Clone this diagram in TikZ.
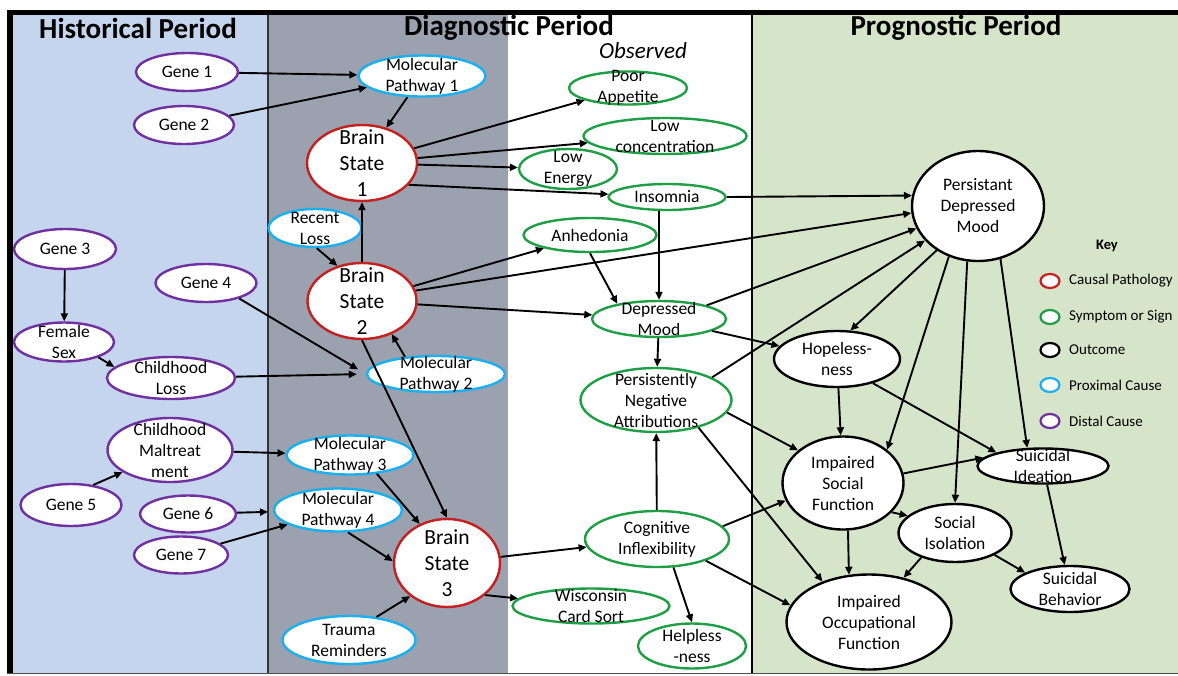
\documentclass[tikz,border=0pt]{standalone}
\usepackage{fontspec}
\setmainfont{Carlito}
\usetikzlibrary{shapes.geometric,arrows.meta}
\definecolor{bluebg}{HTML}{C5D5EE}
\definecolor{graybg}{HTML}{9BA1AF}
\definecolor{greenbg}{HTML}{D6E4CA}
\definecolor{cpurple}{HTML}{7030A0}
\definecolor{cblue}{HTML}{1AAFEF}
\definecolor{cred}{HTML}{C51F1F}
\definecolor{cgreen}{HTML}{1E9E45}
\tikzset{
  base/.style={ellipse, fill=white, line width=2.4pt, inner sep=0pt},
  distal/.style={base, draw=cpurple},
  prox/.style={base, draw=cblue},
  causal/.style={base, draw=cred},
  symp/.style={base, draw=cgreen},
  outc/.style={base, draw=black},
  txt/.style={align=center, inner sep=0pt, font=\fontsize{17.5}{21}\selectfont},
  bigtxt/.style={align=center, inner sep=0pt, font=\fontsize{21.5}{26}\selectfont},
  ptitle/.style={inner sep=0pt, font=\fontsize{29}{33}\selectfont\bfseries},
  arr/.style={-{Triangle[length=8pt,width=7pt]}, line width=1.9pt},
  keyc/.style={ellipse, fill=white, line width=2.2pt, minimum width=19pt, minimum height=14pt, inner sep=0pt},
  keyt/.style={anchor=west, inner sep=0pt, font=\fontsize{15}{17}\selectfont},
}
\begin{document}
\begin{tikzpicture}[x=1pt,y=-1pt]
\useasboundingbox (0,0) rectangle (1178,675);
% panels
\fill[white] (0,0) rectangle (1178,675);
\fill[bluebg] (13,15) rectangle (268,673);
\fill[graybg] (268,15) rectangle (508,673);
\fill[white] (508,15) rectangle (752,673);
\fill[greenbg] (752,15) rectangle (1178,673);
\draw[line width=1.5pt, black!80] (268,15) -- (268,673);
\draw[line width=1.5pt, black] (752,15) -- (752,673);
\draw[line width=5pt] (7,12.5) -- (1178,12.5);
\draw[line width=6pt] (10,10) -- (10,674);
\draw[line width=1.5pt, black!70] (7,673.5) -- (1178,673.5);
% titles
\node[ptitle] (tHist) at (138,28) {Historical Period};
\node[ptitle] (tDiag) at (509,28) {Diagnostic Period};
\node[ptitle] (tProg) at (956,28) {Prognostic Period};
\node[inner sep=0pt, font=\fontsize{23}{26}\selectfont\itshape] (tObs) at (643,51) {Observed};
% historical
\node[distal, minimum width=102pt, minimum height=38pt, label={[txt]center:Gene 1}] (g1) at (187,72) {};
\node[distal, minimum width=100pt, minimum height=38pt, label={[txt]center:Gene 2}] (g2) at (184,125) {};
\node[distal, minimum width=102pt, minimum height=40pt, label={[txt]center:Gene 3}] (g3) at (65,249) {};
\node[distal, minimum width=101pt, minimum height=38pt, label={[txt]center:Gene 4}] (g4) at (206,283) {};
\node[distal, minimum width=100pt, minimum height=39pt, label={[txt]center:Female\\Sex}] (fs) at (64,342) {};
\node[distal, minimum width=128pt, minimum height=42pt, label={[txt]center:Childhood\\Loss}] (cl) at (171,378) {};
\node[distal, minimum width=125pt, minimum height=64pt, label={[txt]center:Childhood\\Maltreat\\ment}] (cm) at (170,450) {};
\node[distal, minimum width=101pt, minimum height=42pt, label={[txt]center:Gene 5}] (g5) at (71,505) {};
\node[distal, minimum width=96pt, minimum height=37pt, label={[txt]center:Gene 6}] (g6) at (188,514) {};
\node[distal, minimum width=94pt, minimum height=37pt, label={[txt]center:Gene 7}] (g7) at (181,555) {};
% proximal
\node[prox, minimum width=127pt, minimum height=41pt, label={[txt]center:Molecular\\Pathway 1}] (mp1) at (422,76) {};
\node[prox, minimum width=93pt, minimum height=38pt, label={[txt]center:Recent\\Loss}] (rl) at (315,228) {};
\node[prox, minimum width=138pt, minimum height=36pt, label={[txt]center:Molecular\\Pathway 2}] (mp2) at (436,374) {};
\node[prox, minimum width=127pt, minimum height=39pt, label={[txt]center:Molecular\\Pathway 3}] (mp3) at (350,455) {};
\node[prox, minimum width=128pt, minimum height=43pt, label={[txt]center:Molecular\\Pathway 4}] (mp4) at (338,510) {};
\node[prox, minimum width=133pt, minimum height=48pt, label={[txt]center:Trauma\\Reminders}] (tr) at (349,640) {};
% causal
\node[causal, minimum width=110pt, minimum height=76pt, label={[bigtxt]center:Brain\\State\\1}] (bs1) at (362,163) {};
\node[causal, minimum width=109pt, minimum height=76pt, label={[bigtxt]center:Brain\\State\\2}] (bs2) at (362,301) {};
\node[causal, minimum width=106pt, minimum height=88pt, label={[bigtxt]center:Brain\\State\\3}] (bs3) at (447,563) {};
% symptoms
\node[symp, minimum width=118pt, minimum height=33pt, label={[txt]center:Poor\\Appetite}] (pa) at (628,88) {};
\node[symp, minimum width=163pt, minimum height=36pt, label={[txt]center:Low\\concentration}] (lc) at (665,136) {};
\node[symp, minimum width=98pt, minimum height=40pt, label={[txt]center:Low\\Energy}] (le) at (568,169) {};
\node[symp, minimum width=117pt, minimum height=26pt, label={[txt]center:Insomnia}] (ins) at (667,197) {};
\node[symp, minimum width=133pt, minimum height=34pt, label={[txt]center:Anhedonia}] (anh) at (590,235) {};
\node[symp, minimum width=134pt, minimum height=36pt, label={[txt]center:Depressed\\Mood}] (dm) at (659,319) {};
\node[symp, minimum width=151pt, minimum height=64pt, label={[txt]center:Persistently\\Negative\\Attributions}] (pna) at (656,400) {};
\node[symp, minimum width=144pt, minimum height=56pt, label={[txt]center:Cognitive\\Inflexibility}] (ci) at (657,539) {};
\node[symp, minimum width=157pt, minimum height=35pt, label={[txt]center:Wisconsin\\Card Sort}] (wcs) at (591,606) {};
\node[symp, minimum width=108pt, minimum height=45pt, label={[txt]center:Helpless\\-ness}] (hlp) at (692,646) {};
% outcomes
\node[outc, minimum width=132pt, minimum height=110pt, label={[txt]center:Persistant\\Depressed\\Mood}] (pdm) at (978,206) {};
\node[outc, minimum width=126pt, minimum height=56pt, label={[txt]center:Hopeless-\\ness}] (hop) at (837,359) {};
\node[outc, minimum width=121pt, minimum height=93pt, label={[txt]center:Impaired\\Social\\Function}] (isf) at (843,483) {};
\node[outc, minimum width=165pt, minimum height=95pt, label={[txt]center:Impaired\\Occupational\\Function}] (iof) at (869,622) {};
\node[outc, minimum width=131pt, minimum height=35pt, label={[txt]center:Suicidal\\Ideation}] (sid) at (1043,466) {};
\node[outc, minimum width=113pt, minimum height=58pt, label={[txt]center:Social\\Isolation}] (soc) at (955,533) {};
\node[outc, minimum width=119pt, minimum height=46pt, label={[txt]center:Suicidal\\Behavior}] (sb) at (1070,589) {};
% key
\node[inner sep=0pt, font=\fontsize{14.5}{17}\selectfont\bfseries] (keyt) at (1107,246) {Key};
\node[keyc, draw=cred] (k1) at (1050,281) {};
\node[keyc, draw=cgreen] (k2) at (1050,317) {};
\node[keyc, draw=black] (k3) at (1050,350) {};
\node[keyc, draw=cblue] (k4) at (1050,385) {};
\node[keyc, draw=cpurple] (k5) at (1050,421) {};
\node[keyt] (kl1) at (1069,281) {Causal Pathology};
\node[keyt] (kl2) at (1069,317) {Symptom or Sign};
\node[keyt] (kl3) at (1069,350) {Outcome};
\node[keyt] (kl4) at (1069,385) {Proximal Cause};
\node[keyt] (kl5) at (1069,421) {Distal Cause};
% edges
\draw[arr] (g1) -- (mp1);
\draw[arr] (g2) -- (mp1);
\draw[arr] (mp1) -- (bs1);
\draw[arr] (bs1) -- (pa);
\draw[arr] (bs1) -- (lc);
\draw[arr] (bs1) -- (le);
\draw[arr] (bs1.-25) -- (ins);
\draw[arr] (bs2) -- (bs1);
\draw[arr] (rl.-85) -- (bs2.125);
\draw[arr] (bs2) -- (anh);
\draw[arr] (bs2.11) -- (pdm.186);
\draw[arr] (bs2) -- (dm);
\draw[arr, shorten >=9pt] (g4.-25) -- (mp2.west);
\draw[arr, shorten >=9pt] (cl) -- (mp2.west);
\draw[arr] (mp2.151) -- (bs2.-48);
\draw[arr] (bs2.south) -- (bs3.north);
\draw[arr] (g3) -- (fs);
\draw[arr] (fs.-24) -- (cl.169);
\draw[arr] (cm) -- (mp3);
\draw[arr] (g5.42) -- (cm.-155);
\draw[arr, shorten >=5pt] (g6) -- (mp4);
\draw[arr] (g7) -- (mp4);
\draw[arr] (mp3.-35) -- (bs3.125);
\draw[arr] (mp4.-66) -- (bs3.178);
\draw[arr] (tr.40) -- (bs3.222);
\draw[arr] (bs3) -- (ci);
\draw[arr] (bs3.-40) -- (wcs);
\draw[arr] (ins.east) -- (pdm.171);
\draw[arr] (ins.south -| dm.north) -- (dm.north);
\draw[arr] (anh.south) -- (dm.160);
\draw[arr] (dm.16) -- (pdm.200);
\draw[arr] (dm) -- (pna);
\draw[arr] (dm) -- (hop);
\draw[arr] (pna.22) -- (pdm.213);
\draw[arr] (pdm.227) -- (hop.65);
\draw[arr] (pdm.240) -- (isf.37);
\draw[arr] (pdm.259) -- (soc.north);
\draw[arr] (pdm.293) -- (sid.131);
\draw[arr] (hop) -- (isf);
\draw[arr] (hop.-34) -- (sid.164);
\draw[arr] (pna.-10) -- (isf.144);
\draw[arr] (pna.-33) -- (iof.139);
\draw[arr] (ci) -- (pna);
\draw[arr] (ci.11) -- (isf.197);
\draw[arr] (ci.-24) -- (iof.168);
\draw[arr] (ci.-60) -- (hlp.north);
\draw[arr] (isf.9) -- (sid.172);
\draw[arr] (isf.-31) -- (soc.160);
\draw[arr] (isf.-84) -- (iof.113);
\draw[arr] (soc.216) -- (iof.52);
\draw[arr] (soc.-29) -- (sb.160);
\draw[arr] (sid) -- (sb);
\end{tikzpicture}
\end{document}
